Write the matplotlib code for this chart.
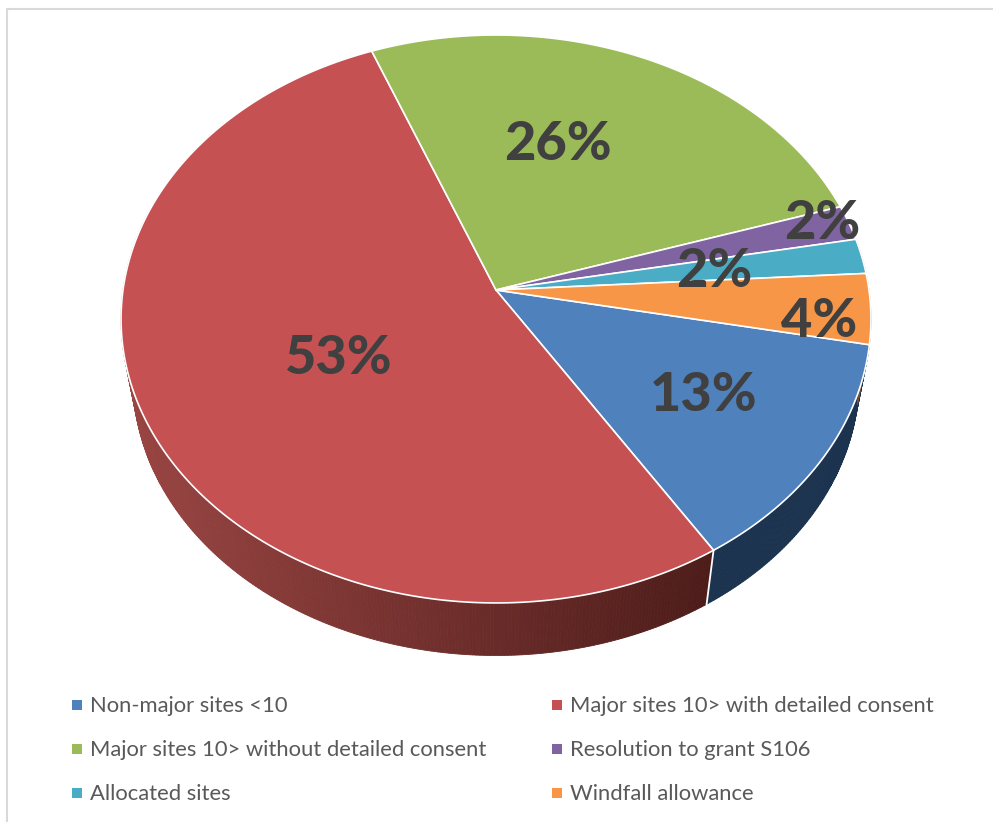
import numpy as np
import matplotlib
matplotlib.use('Agg')
from matplotlib import pyplot as plt
from matplotlib.patches import Polygon

# slices, clockwise
categories = ['Non-major sites <10', 'Major sites 10> with detailed consent',
              'Major sites 10> without detailed consent', 'Resolution to grant S106',
              'Allocated sites', 'Windfall allowance']
percent = [13, 53, 26, 2, 2, 4]
colors = ['#4f81bd', '#c65153', '#9bbb59', '#8064a2', '#4bacc6', '#f79646']
start_angle = 101  # degrees clockwise from 12 o'clock

# tilted disc, in pixels
apex_x, apex_y = 496, 290
scale_x, scale_y = 373, 281
tilt = 0.1021
drop = 61
shrink_x, shrink_y = 0.968, 0.973


def project(theta, lower=False):
    # theta is clockwise from the top of the disc
    x = np.sin(theta)
    y = np.cos(theta)
    u = scale_x * x / (1 + tilt * y)
    v = scale_y * y / (1 + tilt * y)
    if lower:
        return apex_x + shrink_x * u, apex_y - shrink_y * v + drop
    return apex_x + u, apex_y - v


def wall_color(px, c_left, c_right):
    f = np.clip((px - 125) / (715 - 125), 0, 1)
    return np.array(c_left) * (1 - f) + np.array(c_right) * f


plt.rcParams['font.family'] = ['Lato', 'DejaVu Sans']
fig = plt.figure(figsize=(9.93, 8.22), dpi=100)
ax = fig.add_axes([0, 0, 1, 1])
ax.set_xlim(0, 993)
ax.set_ylim(822, 0)
ax.axis('off')

# frame
ax.plot([7, 7, 993], [822, 9, 9], color='#d9d9d9', lw=1.5)

edges = start_angle + np.cumsum([0] + percent) * 3.6

# side wall, painted in thin strips so the red one can shade off
for i in range(len(percent)):
    a0, a1 = edges[i], edges[i + 1]
    steps = np.arange(a0, a1 + 0.5, 0.5)
    for t0, t1 in zip(steps[:-1], steps[1:]):
        t0r, t1r = np.radians(t0), np.radians(t1)
        if np.cos((t0r + t1r) / 2) > 0.3:
            continue
        xu0, yu0 = project(t0r)
        xu1, yu1 = project(t1r)
        xl0, yl0 = project(t0r, True)
        xl1, yl1 = project(t1r, True)
        if i == 1:
            c = wall_color((xu0 + xu1) / 2, (0.60, 0.27, 0.26), (0.30, 0.11, 0.10))
        elif i == 0:
            c = (0.11, 0.20, 0.31)
        else:
            c = (0.45, 0.30, 0.20)
        ax.add_patch(Polygon([(xu0, yu0), (xu1, yu1), (xl1, yl1), (xl0, yl0)],
                             closed=True, fc=c, ec=c, lw=0.6, zorder=2))

# white seam where the blue and red walls meet
x0, y0 = project(np.radians(edges[1]))
x1, y1 = project(np.radians(edges[1]), True)
ax.plot([x0, x1], [y0, y1], color='white', lw=1.3, zorder=3)

# top face
for i, c in enumerate(colors):
    th = np.radians(np.linspace(edges[i], edges[i + 1], 200))
    xs, ys = project(th)
    pts = np.column_stack([np.r_[apex_x, xs], np.r_[apex_y, ys]])
    ax.add_patch(Polygon(pts, closed=True, fc=c, ec='white', lw=1.2,
                         joinstyle='round', zorder=4))

# percentage labels
label_x = [704, 339, 558, 822, 714, 819]
label_y = [395, 358, 145, 223, 271, 321]
for v, lx, ly in zip(percent, label_x, label_y):
    ax.text(lx, ly, '%d%%' % v, ha='center', va='center', fontsize=39,
            fontweight='black', color='#404040', zorder=6)

# legend, two columns
legend_x = [77, 557, 77, 557, 77, 557]
legend_y = [705, 705, 749, 749, 793, 793]
for name, c, lx, ly in zip(categories, colors, legend_x, legend_y):
    ax.scatter([lx], [ly], marker='s', s=42, color=c, linewidths=0, zorder=6)
    ax.text(lx + 13, ly + 1, name, ha='left', va='center', fontsize=15.8, color='#595959', zorder=6)

plt.savefig('out.png', dpi=100)
